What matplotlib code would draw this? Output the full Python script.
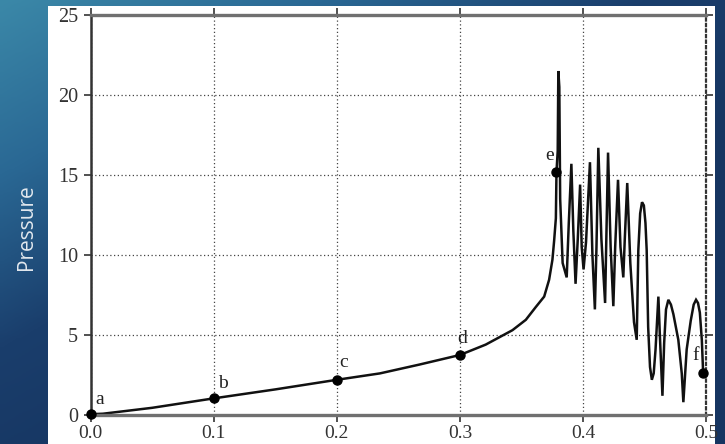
import matplotlib
matplotlib.use("Agg")
import matplotlib.pyplot as plt
from matplotlib.patches import Rectangle
from matplotlib.colors import LinearSegmentedColormap
import numpy as np

# curve (position, pressure)
pos = [0.000, 0.010, 0.050, 0.100, 0.150, 0.200, 0.235, 0.267, 0.300, 0.321,
       0.3427, 0.3536, 0.3617, 0.3685, 0.3725, 0.3752, 0.3766, 0.378, 0.3785,
       0.3795, 0.3800, 0.3808, 0.3815, 0.3835, 0.3868, 0.3885, 0.3906, 0.3922, 0.3940,
       0.3958, 0.3977, 0.3990, 0.4005, 0.4025, 0.4057, 0.4077, 0.4097, 0.4110, 0.4125,
       0.4150, 0.4180, 0.4190, 0.4204, 0.4225, 0.4247, 0.4262, 0.4285, 0.4305, 0.4328,
       0.4340, 0.4360, 0.4385, 0.4415, 0.4437, 0.4450, 0.4465, 0.4480, 0.4495, 0.4508,
       0.4518, 0.4530, 0.4545, 0.4560, 0.4575, 0.4590, 0.4613, 0.4625, 0.4646, 0.4660,
       0.4675, 0.4694, 0.4715, 0.4735, 0.4775, 0.4803, 0.4816, 0.4843, 0.4876, 0.4900,
       0.4919, 0.4935, 0.4950, 0.4966, 0.4977]
pressure = [0.05, 0.08, 0.45, 1.04, 1.6, 2.2, 2.6, 3.15, 3.75, 4.4,
            5.3, 5.95, 6.75, 7.4, 8.45, 9.7, 10.9, 12.3, 15.2,
            16.5, 21.5, 20.5, 13.5, 9.5, 8.6, 12.0, 15.7, 11.5, 8.2,
            11.0, 14.4, 10.5, 9.1, 10.8, 15.8, 10.0, 6.6, 10.5, 16.7,
            11.0, 7.0, 11.0, 16.4, 10.5, 6.8, 10.5, 14.7, 10.5, 8.6,
            11.0, 14.5, 9.5, 5.8, 4.7, 10.3, 12.6, 13.3, 13.1, 12.0,
            10.3, 5.5, 3.0, 2.2, 2.6, 4.1, 7.4, 5.0, 1.2, 4.5,
            6.6, 7.2, 6.9, 6.3, 4.7, 2.6, 0.8, 4.1, 5.9, 6.9,
            7.2, 7.0, 6.4, 4.7, 2.6]

# marked points a-f and where their letters sit
pt_names = ["a", "b", "c", "d", "e", "f"]
pt_x = [0.0, 0.1, 0.2, 0.3, 0.3785, 0.4977]
pt_y = [0.05, 1.04, 2.2, 3.75, 15.2, 2.6]
lab_x = [0.007, 0.1075, 0.2055, 0.3015, 0.3727, 0.4919]
lab_y = [0.95, 2.0, 3.3, 4.8, 16.2, 3.75]

xticks = [0.0, 0.1, 0.2, 0.3, 0.4, 0.5]
yticks = [0, 5, 10, 15, 20, 25]

W, H = 725, 444
fig = plt.figure(figsize=(W / 100, H / 100), dpi=100)

# slide background: teal top-left to navy bottom-right
bg = fig.add_axes([0, 0, 1, 1], zorder=-10)
gx, gy = np.meshgrid(np.linspace(0, 1, 200), np.linspace(0, 1, 200))
t = np.clip(0.75 * gx + 0.85 * gy, 0, 1)
cmap = LinearSegmentedColormap.from_list("slide", ["#3b88a8", "#2a6894", "#1a3e6c", "#163561"])
bg.imshow(t, cmap=cmap, aspect="auto", extent=[0, 1, 0, 1], origin="upper")
bg.add_patch(Rectangle((48 / W, 0), (715 - 48) / W, 1 - 6 / H,
                       transform=bg.transAxes, facecolor="white", edgecolor="none"))
bg.set_xlim(0, 1)
bg.set_ylim(0, 1)
bg.axis("off")

ax = fig.add_axes([90.7 / W, (H - 415) / H, (706 - 90.7) / W, (415 - 15) / H])
ax.set_facecolor("white")

ax.plot(pos, pressure, color="#111111", lw=1.8, solid_joinstyle="miter")
ax.plot(pt_x, pt_y, "o", color="black", ms=6.5, clip_on=False, zorder=5)

serif = ["Liberation Serif", "DejaVu Serif"]
for name, lx, ly in zip(pt_names, lab_x, lab_y):
    ax.text(lx, ly, name, ha="center", va="center", fontsize=14, family=serif,
            color="#222222")

ax.set_xlim(0, 0.5)
ax.set_ylim(0, 25)
ax.set_xticks(xticks)
ax.set_yticks(yticks)
ax.set_xticklabels([f"{v:.1f}" for v in xticks], family=serif, fontsize=14, color="#333333")
ax.set_yticklabels([str(v) for v in yticks], family=serif, fontsize=14.5, color="#333333")
ax.tick_params(direction="out", length=5, width=1.2, color="#333333", pad=4,
               top=True, right=True)
ax.tick_params(axis="x", pad=2.5)

ax.grid(True, linestyle=(0, (1, 2)), color="#444444", lw=0.9)

ax.spines["bottom"].set_color("#707070")
ax.spines["bottom"].set_linewidth(2.4)
ax.spines["top"].set_color("#707070")
ax.spines["top"].set_linewidth(2.4)
ax.spines["left"].set_color("#333333")
ax.spines["left"].set_linewidth(1.8)
ax.spines["right"].set_color("#333333")
ax.spines["right"].set_linewidth(1.6)
ax.spines["right"].set_linestyle((0, (1, 1.5)))

fig.text(26 / W, 1 - 227 / H, "Pressure", rotation=90, ha="center", va="center",
         fontsize=15, family=["Open Sans", "DejaVu Sans"], color="#e2e8ee")

fig.savefig("out.png", dpi=100)
